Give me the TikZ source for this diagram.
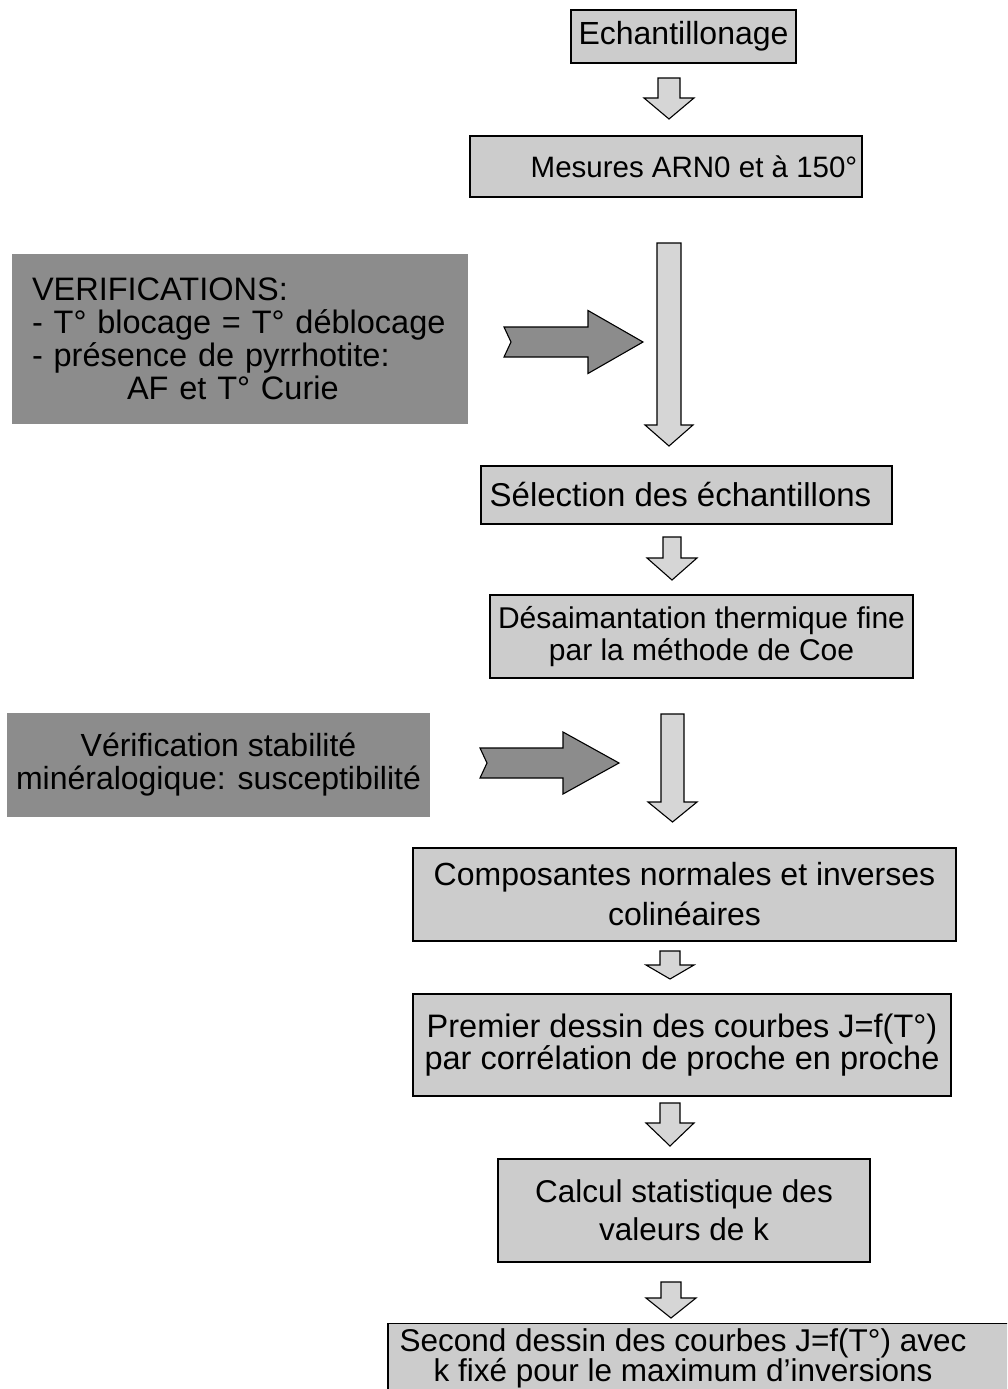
\documentclass[tikz,border=0pt]{standalone}
\usepackage{fontspec}
\setmainfont{Liberation Sans}
\definecolor{boxlight}{gray}{0.80}
\definecolor{boxdark}{gray}{0.55}
\definecolor{arrowlight}{gray}{0.84}
\newcommand{\vblock}[7]{%
  \draw[#1] ({#2-#6},#3) -- ({#2+#6},#3) -- ({#2+#6},#4) -- ({#2+#7},#4) -- (#2,#5) -- ({#2-#7},#4) -- ({#2-#6},#4) -- cycle;}
\newcommand{\hblock}[8]{%
  \draw[#1] (#2,{#4-#5}) -- (#6,{#4-#5}) -- (#6,{#4-#7}) -- (#8,#4) -- (#6,{#4+#7}) -- (#6,{#4+#5}) -- (#2,{#4+#5}) -- ({#2+#3},#4) -- cycle;}
\newcommand{\fs}[2]{\fontsize{#1}{#2}\selectfont}
\begin{document}
\begin{tikzpicture}[x=1pt,y=-1pt,
  lbox/.style={draw=black, line width=1.3pt, fill=boxlight, inner sep=0pt, align=center},
  dbox/.style={fill=boxdark, inner sep=0pt},
  larrow/.style={draw=black, line width=1.1pt, fill=arrowlight, line join=miter},
  darrow/.style={draw=black, line width=1.1pt, fill=boxdark, line join=miter}
]
\useasboundingbox (0,0) rectangle (1007,1389);
\clip (0,0) rectangle (1007,1389);

% right column boxes
\node[lbox, font=\fs{32}{38}, minimum width=225pt, minimum height=53pt] (echant) at (683.5,36.5) {Echantillonage};
\node[lbox, font=\fs{29.5}{38}, minimum width=392pt, minimum height=61pt] (mesures) at (666,166.5) {\hspace*{56pt}Mesures ARN0 et à 150°};
\node[lbox, font=\fs{33}{38}, minimum width=411pt, minimum height=58pt] (select) at (686.5,495) {Sélection des échantillons\hspace*{12pt}};
\node[lbox, font=\fs{30}{32}, minimum width=423pt, minimum height=83pt] (desaim) at (701.5,636.5) {Désaimantation thermique fine\\par la méthode de Coe};
\node[lbox, font=\fs{32}{40}, minimum width=543pt, minimum height=93pt] (compos) at (684.5,894.5) {Composantes normales et inverses\\colinéaires};
\node[lbox, font=\fs{32.5}{32}, minimum width=538pt, minimum height=102pt] (premier) at (682,1045) {Premier dessin des courbes J=f(T°)\\par corrélation de proche en proche};
\node[lbox, font=\fs{31.5}{38}, minimum width=372pt, minimum height=103pt] (calcul) at (684,1210.5) {Calcul statistique des\\valeurs de k};
\node[lbox, font=\fs{31.5}{30}, minimum width=624pt, minimum height=69pt, anchor=north] (second) at (700,1323) {Second dessin des courbes J=f(T°) avec\hspace*{34pt}\\k fixé pour le maximum d'inversions\hspace*{34pt}};

% left column boxes
\node[dbox, font=\fs{32.5}{33}, minimum width=456pt, minimum height=170pt, text width=416pt, align=left] (verif) at (240,339)
  {VERIFICATIONS:\\- T° blocage = T° déblocage\\- présence de pyrrhotite:\\\hspace*{95pt}AF et T° Curie};
\node[dbox, font=\fs{32}{33}, minimum width=423pt, minimum height=104pt, align=center] (verif2) at (218.5,765)
  {Vérification stabilité\\minéralogique: susceptibilité};

% small down arrows
\vblock{larrow}{669}{78}{98}{119}{11}{25}
\vblock{larrow}{672}{537}{558}{580}{9}{25}
\vblock{larrow}{670}{951}{965}{979}{10}{24}
\vblock{larrow}{670}{1103}{1123}{1146}{10}{24}
\vblock{larrow}{671}{1282}{1298}{1318}{10}{25}
% long down arrows
\vblock{larrow}{669}{243}{425}{446}{12}{24}
\vblock{larrow}{672.5}{714}{802}{822}{11.5}{24.5}
% horizontal dark arrows
\hblock{darrow}{504}{7}{342}{15}{588}{31.5}{643}
\hblock{darrow}{480}{7}{763}{15}{563}{31}{619}
\end{tikzpicture}
\end{document}
